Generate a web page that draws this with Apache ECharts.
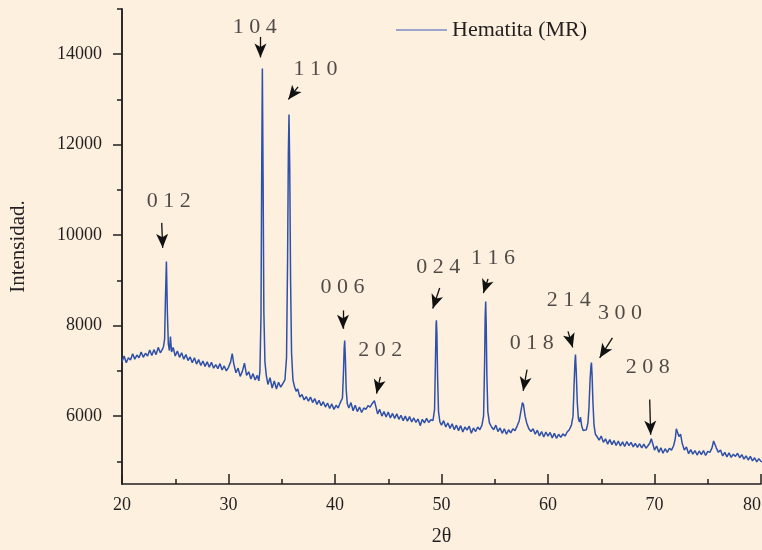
<!DOCTYPE html>
<html>
<head>
<meta charset="utf-8">
<script src="https://cdn.jsdelivr.net/npm/echarts@6/dist/echarts.min.js"></script>
<style>
html,body{margin:0;padding:0;background:#fdf0df;}
#chart{width:762px;height:550px;}
</style>
</head>
<body>
<div id="chart"></div>
<script>
// ---- data: XRD pattern of hematite, [2θ, intensity] segments ----
const seg20to25 = [
[20.0,7200],[20.2,7330],[20.4,7180],[20.6,7290],[20.8,7240],[21.0,7380],[21.2,7260],[21.4,7350],[21.6,7290],[21.8,7420],
[22.0,7300],[22.2,7390],[22.4,7330],[22.6,7460],[22.8,7340],[23.0,7470],[23.2,7360],[23.4,7520],[23.6,7400],[23.8,7480],
[23.9,7540],[24.0,7700],[24.08,8600],[24.17,9418],[24.26,8300],[24.35,7600],[24.45,7450],[24.55,7760],[24.65,7420],[24.8,7520],[25.0,7330]
];
const seg25to33 = [
[25.2,7440],[25.4,7300],[25.6,7400],[25.8,7260],[26.0,7360],[26.2,7230],[26.4,7310],[26.6,7180],[26.8,7290],[27.0,7150],
[27.2,7250],[27.4,7120],[27.6,7220],[27.8,7100],[28.0,7200],[28.2,7080],[28.4,7190],[28.6,7060],[28.8,7140],[29.0,7050],
[29.2,7160],[29.4,7020],[29.6,7110],[29.8,7000],[30.0,7080],[30.2,7200],[30.35,7380],[30.5,7150],[30.7,6960],[30.9,7060],
[31.1,6880],[31.3,6990],[31.5,7170],[31.7,6900],[31.9,6980],[32.1,6820],[32.3,6940],[32.5,6800],[32.7,6900],[32.85,6780]
];
const seg33to41 = [
[32.95,7000],[33.05,8200],[33.12,11500],[33.18,13684],[33.25,11200],[33.32,8300],[33.42,7200],[33.55,6900],
[33.7,6700],[33.9,6850],[34.1,6620],[34.3,6780],[34.5,6600],[34.7,6750],[34.9,6640],[35.1,6720],[35.3,6800],
[35.45,7300],[35.55,9500],[35.62,11800],[35.68,12670],[35.75,11500],[35.83,9000],[35.92,7400],[36.05,6800],
[36.2,6650],[36.35,6550],[36.5,6600],[36.7,6420],[36.9,6480],[37.1,6360],[37.3,6430],[37.5,6330],[37.7,6420],
[37.9,6300],[38.1,6390],[38.3,6260],[38.5,6350],[38.7,6230],[38.9,6320],[39.1,6200],[39.3,6290],[39.5,6170],
[39.7,6270],[39.9,6150],[40.1,6240],[40.3,6180],[40.5,6300],[40.7,6400],[40.8,7000],[40.86,7500],[40.91,7669],
[40.97,7300],[41.05,6600],[41.15,6280]
];
const seg41to50 = [
[41.3,6180],[41.5,6300],[41.7,6120],[41.9,6240],[42.1,6100],[42.3,6200],[42.5,6080],[42.7,6180],[42.9,6150],[43.1,6230],
[43.3,6200],[43.5,6280],[43.7,6340],[43.85,6200],[44.0,6050],[44.2,6150],[44.4,6000],[44.6,6100],[44.8,5980],[45.0,6090],
[45.2,5960],[45.4,6060],[45.6,5950],[45.8,6050],[46.0,5930],[46.2,6020],[46.4,5900],[46.6,6000],[46.8,5890],[47.0,5990],
[47.2,5870],[47.4,5960],[47.6,5860],[47.8,5940],[48.0,5790],[48.2,5930],[48.4,5850],[48.6,5950],[48.8,5860],[49.0,5920],
[49.2,5900],[49.35,6150],[49.43,7200],[49.49,8000],[49.52,8117],[49.57,7800],[49.63,6900],[49.72,6100],[49.85,5870]
];
const seg50to59 = [
[50.0,5800],[50.2,5900],[50.4,5760],[50.6,5850],[50.8,5730],[51.0,5830],[51.2,5700],[51.4,5800],[51.6,5680],[51.8,5790],
[52.0,5650],[52.2,5760],[52.4,5690],[52.6,5780],[52.8,5620],[53.0,5740],[53.2,5660],[53.4,5760],[53.6,5700],[53.8,5800],
[53.95,6000],[54.05,7200],[54.1,8200],[54.15,8536],[54.2,8000],[54.26,6900],[54.35,6100],[54.5,5850],[54.7,5760],
[54.9,5700],[55.1,5800],[55.3,5660],[55.5,5740],[55.7,5620],[55.9,5720],[56.1,5600],[56.3,5700],[56.5,5630],[56.7,5720],
[56.9,5680],[57.1,5780],[57.3,5900],[57.45,6100],[57.6,6300],[57.7,6250],[57.85,6000],[58.0,5850],[58.2,5720],[58.4,5660],[58.6,5720]
];
const seg59to65 = [
[58.8,5600],[59.0,5690],[59.2,5560],[59.4,5660],[59.6,5540],[59.8,5650],[60.0,5560],[60.2,5640],[60.4,5520],[60.6,5620],
[60.8,5510],[61.0,5600],[61.2,5530],[61.4,5610],[61.6,5560],[61.8,5650],[62.0,5700],[62.2,5800],[62.35,6000],[62.45,6700],
[62.53,7200],[62.58,7360],[62.65,7000],[62.75,6300],[62.85,5950],[62.95,5870],[63.05,5980],[63.15,5800],[63.3,5680],
[63.45,5640],[63.6,5700],[63.75,5850],[63.85,6200],[63.95,6800],[64.03,7100],[64.08,7183],[64.14,6900],[64.22,6300],
[64.32,5800],[64.45,5600],[64.6,5550]
];
const seg65to80 = [
[64.8,5470],[65.0,5560],[65.2,5420],[65.4,5500],[65.6,5380],[65.8,5480],[66.0,5370],[66.2,5460],[66.4,5350],[66.6,5450],
[66.8,5340],[67.0,5430],[67.2,5330],[67.4,5440],[67.6,5350],[67.8,5420],[68.0,5320],[68.2,5400],[68.4,5310],[68.6,5390],
[68.8,5300],[69.0,5380],[69.2,5290],[69.4,5350],[69.55,5400],[69.7,5500],[69.85,5380],[70.0,5250],[70.2,5340],[70.4,5200],
[70.6,5300],[70.8,5180],[71.0,5280],[71.2,5200],[71.4,5290],[71.6,5250],[71.8,5350],[71.95,5500],[72.05,5720],[72.15,5650],
[72.3,5550],[72.45,5600],[72.6,5400],[72.8,5250],[73.0,5320],[73.2,5170],[73.4,5260],[73.6,5160],[73.8,5240],[74.0,5140],
[74.2,5230],[74.4,5150],[74.6,5240],[74.8,5130],[75.0,5220],[75.2,5200],[75.4,5300],[75.55,5450],[75.65,5420],[75.8,5300],
[76.0,5200],[76.2,5250],[76.4,5120],[76.6,5200],[76.8,5100],[77.0,5190],[77.2,5090],[77.4,5160],[77.6,5110],[77.8,5180],
[78.0,5080],[78.2,5150],[78.4,5050],[78.6,5120],[78.8,5030],[79.0,5110],[79.2,5010],[79.4,5080],[79.6,4990],[79.8,5060],
[80.0,5000],[80.1,4990]
];

// ---- annotations (Miller indices), in data coordinates ----
const peakLabels = ['0 1 2','1 0 4','1 1 0','0 0 6','2 0 2','0 2 4','1 1 6','0 1 8','2 1 4','3 0 0','2 0 8'];
const labelPos = [[24.40,10740],[32.46,14600],[38.17,13660],[40.70,8860],[44.24,7450],[49.70,9300],[54.83,9500],[58.47,7610],[61.95,8570],[66.75,8270],[69.36,7080]];
const arrowFrom = [[23.73,10272],[33.00,14382],[36.53,13279],[40.75,8337],[44.26,6868],[49.83,8831],[54.37,9030],[58.03,7029],[61.88,7874],[66.05,7728],[69.55,6367]];
const arrowTo   = [[23.82,9720],[33.00,13930],[35.62,13000],[40.75,7930],[43.90,6500],[49.18,8380],[53.93,8720],[57.67,6560],[62.32,7520],[64.85,7290],[69.64,5590]];

// ---- axis ticks ----
const yMajorTicks = [6000,8000,10000,12000,14000];
const yMinorTicks = [5000,7000,9000,11000,13000,15000];
const xTickStep = 10;

const seriesName = 'Hematita (MR)';
const pattern = [].concat(seg20to25, seg25to33, seg33to41, seg41to50, seg50to59, seg59to65, seg65to80);

const FONT = 'Liberation Serif';
const INK = '#231f20';

const chart = echarts.init(document.getElementById('chart'), null, {renderer: 'canvas'});
const yBase = {
  type: 'value', min: 4500, max: 15000, position: 'left',
  splitLine: {show: false},
  axisLine: {show: true, lineStyle: {color: INK, width: 1.5}}
};
chart.setOption({
  backgroundColor: '#fdf0df',
  animation: false,
  textStyle: {fontFamily: FONT},
  grid: {left: 122, right: 1, top: 9, bottom: 66, outerBoundsMode: 'none'},
  legend: {
    data: [{name: seriesName, icon: 'rect'}], left: 396, top: 19, padding: 0,
    itemWidth: 51, itemHeight: 1.6, itemGap: 6,
    itemStyle: {color: '#7d8bc6', borderWidth: 0},
    textStyle: {fontFamily: FONT, fontSize: 22, color: INK}
  },
  xAxis: {
    type: 'value', min: 20, max: 80, interval: xTickStep,
    name: '2θ', nameLocation: 'middle', nameGap: 43,
    nameTextStyle: {fontFamily: FONT, fontSize: 20, color: INK},
    splitLine: {show: false},
    axisLine: {show: true, onZero: false, lineStyle: {color: INK, width: 1.5}},
    axisTick: {show: true, inside: true, length: 10, lineStyle: {color: INK, width: 1.5}},
    minorTick: {show: true, splitNumber: 2, length: 5, lineStyle: {color: INK, width: 1.5}},
    axisLabel: {fontFamily: FONT, fontSize: 18, color: INK, margin: 12, alignMaxLabel: 'right'}
  },
  yAxis: [
    Object.assign({}, yBase, {
      name: 'Intensidad.', nameLocation: 'middle', nameGap: 93, nameRotate: 90,
      nameTextStyle: {fontFamily: FONT, fontSize: 21, color: INK},
      axisTick: {show: true, inside: false, length: 9, customValues: yMajorTicks, lineStyle: {color: INK, width: 1.5}},
      axisLabel: {fontFamily: FONT, fontSize: 18, color: INK, margin: 20, customValues: yMajorTicks,
                  formatter: v => String(v)}
    }),
    Object.assign({}, yBase, {
      axisTick: {show: true, inside: false, length: 5, customValues: yMinorTicks, lineStyle: {color: INK, width: 1.5}},
      axisLabel: {show: false}
    })
  ],
  series: [
    {
      name: seriesName, type: 'line', data: pattern, symbol: 'none', showSymbol: false,
      lineStyle: {color: '#2f50a8', width: 1.5}, itemStyle: {color: '#2f50a8'}, silent: true
    },
    {
      name: 'hkl', type: 'scatter', symbolSize: 0, silent: true,
      data: peakLabels.map((t, i) => ({name: t, value: labelPos[i]})),
      label: {show: true, position: 'inside', formatter: '{b}', fontFamily: FONT, fontSize: 22, color: INK},
      markLine: {
        silent: true, symbol: ['none', 'arrow'], symbolSize: [9, 14],
        lineStyle: {color: '#111', width: 1.3, type: 'solid'},
        itemStyle: {color: '#111'},
        label: {show: false}, emphasis: {disabled: true},
        data: arrowFrom.map((p, i) => [{coord: p}, {coord: arrowTo[i]}])
      }
    }
  ]
});
</script>
</body>
</html>
